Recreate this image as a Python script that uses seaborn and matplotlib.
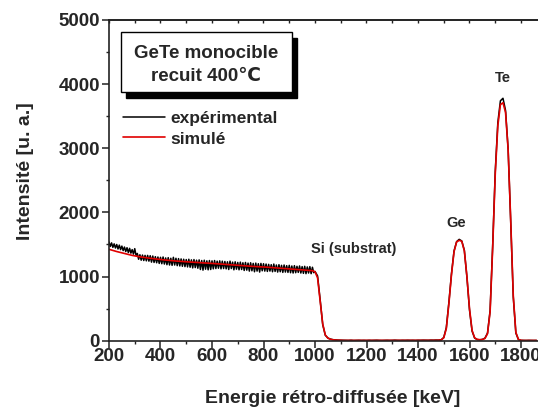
import numpy as np
import pandas as pd
import matplotlib
matplotlib.use("Agg")
import matplotlib.pyplot as plt
from matplotlib.patches import Rectangle
from matplotlib.ticker import MultipleLocator
import seaborn as sns

# ---------------- data ----------------
# simulated spectrum: 10 keV channels
energy_sim = np.arange(200, 1870, 10)
# experimental spectrum: 5 keV channels up to 995 keV, 10 keV beyond
energy_exp = np.concatenate([np.arange(200, 1000, 5), np.arange(1000, 1870, 10)])

experimental = [
    1540, 1470, 1525, 1455, 1510, 1445, 1500, 1430, 1490, 1420,
    1475, 1405, 1460, 1390, 1450, 1375, 1440, 1365, 1420, 1350,
    1435, 1330, 1360, 1270, 1340, 1255, 1335, 1250, 1330, 1245,
    1330, 1240, 1325, 1225, 1320, 1220, 1310, 1215, 1305, 1205,
    1300, 1200, 1305, 1195, 1290, 1185, 1295, 1180, 1285, 1175,
    1300, 1180, 1285, 1170, 1280, 1165, 1275, 1160, 1270, 1155,
    1265, 1150, 1270, 1145, 1260, 1135, 1265, 1140, 1255, 1130,
    1260, 1110, 1250, 1100, 1255, 1115, 1245, 1105, 1250, 1110,
    1245, 1120, 1250, 1125, 1240, 1130, 1245, 1120, 1240, 1125,
    1235, 1120, 1230, 1110, 1240, 1125, 1225, 1105, 1230, 1115,
    1220, 1105, 1225, 1110, 1215, 1095, 1220, 1100, 1210, 1085,
    1215, 1090, 1205, 1075, 1210, 1085, 1200, 1070, 1205, 1090,
    1200, 1085, 1195, 1080, 1190, 1085, 1185, 1075, 1195, 1080,
    1180, 1070, 1185, 1075, 1175, 1065, 1180, 1070, 1170, 1065,
    1175, 1060, 1165, 1055, 1170, 1060, 1160, 1065, 1165, 1055,
    1155, 1050, 1160, 1045, 1150, 1055, 1155, 1045, 1145, 1060,
    1080, 1010, 640, 250, 85, 42, 25, 16, 12, 9, 8,
    6, 5, 4, 7, 3, 5, 6, 4, 5, 3, 6, 4, 5, 7, 4, 3, 5, 6, 4, 5,
    8, 5, 4, 6, 5, 7, 5, 6, 4, 7, 6, 8, 7, 6, 9, 8, 10, 9,
    14, 50, 205, 600, 1045, 1400, 1545, 1580, 1555, 1410,
    990, 480, 150, 40, 18, 14, 20, 40, 120, 470,
    1480, 2640, 3400, 3740, 3780, 3590, 2990, 1860, 680, 120,
    18, 5,
    4, 3, 5, 4, 3, 4,
]

simulated = [
    1425, 1413, 1401, 1390, 1380, 1370, 1360, 1350, 1340, 1330,
    1322, 1315, 1308, 1302, 1296, 1290, 1285, 1280, 1275, 1270,
    1265, 1261, 1257, 1253, 1249, 1245, 1242, 1239, 1236, 1233,
    1230, 1228, 1225, 1223, 1220, 1218, 1215, 1213, 1210, 1208,
    1205, 1202, 1199, 1196, 1193, 1190, 1187, 1184, 1181, 1178,
    1175, 1172, 1169, 1166, 1163, 1160, 1158, 1156, 1154, 1152,
    1150, 1147, 1144, 1141, 1138, 1135, 1132, 1129, 1126, 1123,
    1120, 1117, 1114, 1111, 1108, 1105, 1102, 1099, 1096, 1092,
    1075, 980, 620, 260, 90, 40, 22, 14, 10, 8, 6,
    5, 5, 5, 5, 5, 5, 5, 5, 5, 5, 5, 5, 5, 5, 5, 5, 5, 5, 5, 5,
    5, 5, 5, 5, 5, 5, 5, 5, 5, 5, 5, 5, 5, 5, 6, 6, 7, 8,
    12, 45, 190, 580, 1030, 1390, 1540, 1565, 1550, 1400,
    1000, 500, 160, 45, 20, 16, 18, 35, 110, 450,
    1450, 2600, 3350, 3680, 3710, 3560, 2980, 1880, 700, 130,
    20, 6,
    4, 4, 4, 4, 4, 4,
]

assert len(experimental) == len(energy_exp)
assert len(simulated) == len(energy_sim)

series_labels = ["expérimental", "simulé"]
peak_labels = ["Si (substrat)", "Ge", "Te"]
peak_pos = [(1151, 1430), (1548, 1841), (1731, 4094)]
x_ticks = [200, 400, 600, 800, 1000, 1200, 1400, 1600, 1800]
y_ticks = [0, 1000, 2000, 3000, 4000, 5000]
box_text = "GeTe monocible\nrecuit 400\u2103"
xlabel = "Energie rétro-diffusée [keV]"
ylabel = "Intensité [u. a.]"

# ---------------- style ----------------
sns.set_style("ticks")
plt.rcParams["font.family"] = ["Liberation Sans", "DejaVu Sans"]
plt.rcParams["font.weight"] = "bold"

W, H = 538, 407
fig = plt.figure(figsize=(W / 100, H / 100), dpi=100)
ax_l, ax_r, ax_t, ax_b = 109, 538, 20, 340.7
ax = fig.add_axes([ax_l / W, 1 - ax_b / H, (ax_r - ax_l) / W, (ax_b - ax_t) / H])

df_exp = pd.DataFrame({"energy": energy_exp, "counts": experimental})
df_sim = pd.DataFrame({"energy": energy_sim, "counts": simulated})
sns.lineplot(data=df_exp, x="energy", y="counts", color="black", lw=1.1,
             label=series_labels[0], ax=ax)
sns.lineplot(data=df_sim, x="energy", y="counts", color="#e00000", lw=1.2,
             label=series_labels[1], ax=ax)

ax.set_xlim(200, 200 + (ax_r - ax_l) / 0.2575)
ax.set_ylim(0, 5000)
ax.set_xticks(x_ticks)
ax.set_yticks(y_ticks)
ax.xaxis.set_minor_locator(MultipleLocator(100))
ax.yaxis.set_minor_locator(MultipleLocator(500))
ax.tick_params(axis="both", which="major", labelsize=13.5, width=1.1,
               length=5, direction="out", color="#222222")
ax.tick_params(axis="x", which="major", pad=0)
ax.tick_params(axis="y", which="major", pad=1.5)
ax.tick_params(axis="both", which="minor", width=1.0, length=2.5,
               direction="out", color="#222222")
for lab in ax.get_xticklabels() + ax.get_yticklabels():
    lab.set_fontweight("bold")

for s in ["left", "bottom", "top"]:
    ax.spines[s].set_visible(True)
    ax.spines[s].set_linewidth(1.2)
    ax.spines[s].set_color("#222222")
ax.spines["right"].set_visible(False)

top = ax.secondary_xaxis("top")
top.set_xticks(np.arange(200, 1900, 100))
top.tick_params(direction="in", length=2.5, width=1.0, labeltop=False,
                color="#222222")
top.spines["top"].set_linewidth(1.2)

ax.set_xlabel(xlabel, fontsize=14, fontweight="bold")
ax.set_ylabel(ylabel, fontsize=14, fontweight="bold")
ax.xaxis.set_label_coords(0.521, -0.153)
ax.yaxis.set_label_coords(-0.175, 0.528)

for txt, (px, py) in zip(peak_labels, peak_pos):
    ax.text(px, py, txt, ha="center", va="center", fontsize=10.5,
            fontweight="bold")

leg = ax.legend(loc="upper left",
                bbox_to_anchor=((123 - ax_l) / (ax_r - ax_l), 1 - (111 - ax_t) / (ax_b - ax_t)),
                frameon=False, fontsize=12.5, handlelength=2.42,
                handletextpad=0.33, labelspacing=0.3, borderpad=0,
                borderaxespad=0)
for t in leg.get_texts():
    t.set_fontweight("bold")

# text box with shadow
bx0, bx1, by0, by1 = 120.7, 291.7, 31.7, 92.3
fig.patches.append(Rectangle(((bx0 + 5) / W, 1 - (by1 + 6) / H), (bx1 - bx0) / W,
                             (by1 - by0) / H, transform=fig.transFigure,
                             facecolor="black", edgecolor="black", zorder=5))
fig.patches.append(Rectangle((bx0 / W, 1 - by1 / H), (bx1 - bx0) / W,
                             (by1 - by0) / H, transform=fig.transFigure,
                             facecolor="white", edgecolor="black", lw=1.0, zorder=6))
fig.text((bx0 + bx1) / 2 / W, 1 - 65 / H, box_text, ha="center", va="center",
         fontsize=13.5, fontweight="bold", linespacing=1.45, zorder=7)

fig.savefig("out.png", dpi=100)
